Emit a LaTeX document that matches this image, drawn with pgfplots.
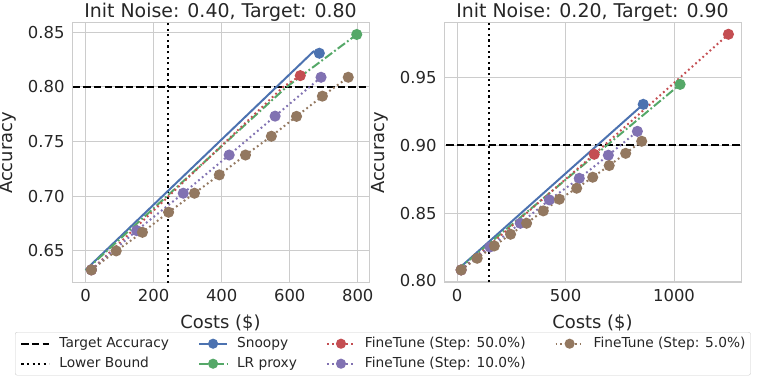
\documentclass[border=0pt]{standalone}
\usepackage{fontspec}
\setmainfont{DejaVu Sans}
\usepackage{pgfplots}
\pgfplotsset{compat=1.18}

\definecolor{sblue}{HTML}{4C72B0}
\definecolor{sgreen}{HTML}{55A868}
\definecolor{sred}{HTML}{C44E52}
\definecolor{spurple}{HTML}{8172B2}
\definecolor{sbrown}{HTML}{937860}
\definecolor{gridgray}{HTML}{CCCCCC}
\definecolor{txt}{HTML}{262626}

\pgfplotsset{
  panel/.style={
    scale only axis, width=297bp, height=260bp, anchor=south west,
    axis line style={draw=gridgray, line width=1bp},
    grid=major, grid style={draw=gridgray, line width=0.9bp},
    major tick length=0pt, tick style={draw=none},
    /pgf/number format/assume math mode=true,
    /pgf/number format/1000 sep={},
    ticklabel style={font=\fontsize{16.5}{18}\selectfont, text=txt},
    xticklabel style={yshift=-3bp},
    yticklabel style={xshift=-4bp, /pgf/number format/fixed, /pgf/number format/fixed zerofill,
      /pgf/number format/precision=2},
    scaled y ticks=false,
    label style={font=\fontsize{18}{20}\selectfont, text=txt},
    xlabel style={yshift=-6bp},
    ylabel style={yshift=4.5bp},
    title style={font=\fontsize{19}{21}\selectfont, text=txt, anchor=base},
    xlabel={Costs (\$)}, ylabel={Accuracy},
    legend image code/.code={
      \draw[mark repeat=2, mark phase=2, ##1] plot coordinates {(0bp,0bp) (14bp,0bp) (28bp,0bp)};},
  },
  target/.style={black, line width=2.2bp, dash pattern=on 7.4bp off 3.2bp},
  lower/.style={black, line width=2.2bp, dash pattern=on 2.2bp off 3.4bp},
  snoopy/.style={sblue, solid, line width=2bp, mark=*, mark size=4.5bp,
    mark options={solid, fill=sblue, draw=sblue}},
  lrproxy/.style={sgreen, line width=2bp, dash pattern=on 9bp off 2.6bp on 1.8bp off 2.6bp,
    mark=*, mark size=4.5bp, mark options={solid, fill=sgreen, draw=sgreen}},
  ft/.style={#1, line width=2bp, dash pattern=on 1.8bp off 3bp, mark=*, mark size=4.5bp,
    mark options={solid, fill=#1, draw=#1}},
}

\begin{document}
\begin{tikzpicture}
\useasboundingbox (0,0) rectangle (767bp,384bp);

% left panel
\begin{axis}[panel, at={(72bp,101bp)},
  title={Init Noise: 0.40, Target: 0.80},
  xmin=-40, xmax=833, ymin=0.6204, ymax=0.8585,
  xtick={0,200,400,600,800}, ytick={0.65,0.70,0.75,0.80,0.85},
  legend columns=4, legend cell align=left,
  legend style={at={(-0.1919,-0.1885)}, anchor=north west,
    draw=gridgray, rounded corners=2bp, fill=white, text=txt,
    font=\fontsize{13.8}{15}\selectfont, inner xsep=5bp, inner ysep=5bp,
    nodes={inner sep=0pt, text height=10bp, text depth=3bp},
    row sep=7bp,
    /tikz/every odd column/.append style={column sep=9bp},
    /tikz/every even column/.append style={column sep=29bp}},
]
\addplot[target, forget plot] coordinates {(-100,0.80) (2000,0.80)};
\addplot[lower, forget plot] coordinates {(243,0.60) (243,0.90)};
\addplot[snoopy, mark indices={3}, forget plot] coordinates {(0,0.6324) (670,0.8325) (687,0.8308)};
\addplot[lrproxy, mark indices={3}, forget plot] coordinates {(0,0.6320) (591,0.8000) (797,0.8480)};
\addplot[ft=sred, mark indices={1,3}, forget plot] coordinates {(17,0.6324) (581,0.8000) (631,0.8103)};
\addplot[ft=spurple, forget plot] coordinates {
  (17,0.6324) (150,0.6684) (287,0.7026) (422,0.7376) (557,0.7732) (692,0.8088)};
\addplot[ft=sbrown, forget plot] coordinates {
  (17,0.6324) (90,0.6498) (167,0.6668) (244,0.6852) (320,0.7026) (393,0.7194)
  (470,0.7376) (546,0.7548) (620,0.7730) (696,0.7915) (772,0.8088)};
\addlegendimage{target}\addlegendentry{Target Accuracy}
\addlegendimage{snoopy, mark size=4bp}\addlegendentry{Snoopy}
\addlegendimage{ft=sred, mark size=4bp}\addlegendentry{FineTune (Step: 50.0\%)}
\addlegendimage{ft=sbrown, mark size=4bp}\addlegendentry{FineTune (Step: 5.0\%)}
\addlegendimage{lower}\addlegendentry{Lower Bound}
\addlegendimage{lrproxy, mark size=4bp}\addlegendentry{LR proxy}
\addlegendimage{ft=spurple, mark size=4bp}\addlegendentry{FineTune (Step: 10.0\%)}
\end{axis}

% right panel
\begin{axis}[panel, at={(444bp,101bp)},
  title={Init Noise: 0.20, Target: 0.90},
  xmin=-61, xmax=1309, ymin=0.7985, ymax=0.99,
  xtick={0,500,1000}, ytick={0.80,0.85,0.90,0.95},
]
\addplot[target] coordinates {(-100,0.90) (2000,0.90)};
\addplot[lower] coordinates {(146,0.70) (146,1.00)};
\addplot[snoopy, mark indices={2}] coordinates {(0,0.8081) (858,0.9301)};
\addplot[lrproxy, mark indices={2}] coordinates {(0,0.8080) (1028,0.9448)};
\addplot[ft=sred] coordinates {(18,0.8081) (632,0.8933) (1251,0.9817)};
\addplot[ft=spurple] coordinates {
  (18,0.8081) (151,0.8250) (291,0.8425) (425,0.8597) (563,0.8756) (697,0.8926) (831,0.9102)};
\addplot[ft=sbrown] coordinates {
  (18,0.8081) (92,0.8167) (171,0.8258) (246,0.8344) (320,0.8425) (397,0.8516)
  (471,0.8602) (551,0.8683) (625,0.8764) (701,0.8850) (777,0.8940) (851,0.9029)};
\end{axis}
\end{tikzpicture}
\end{document}
